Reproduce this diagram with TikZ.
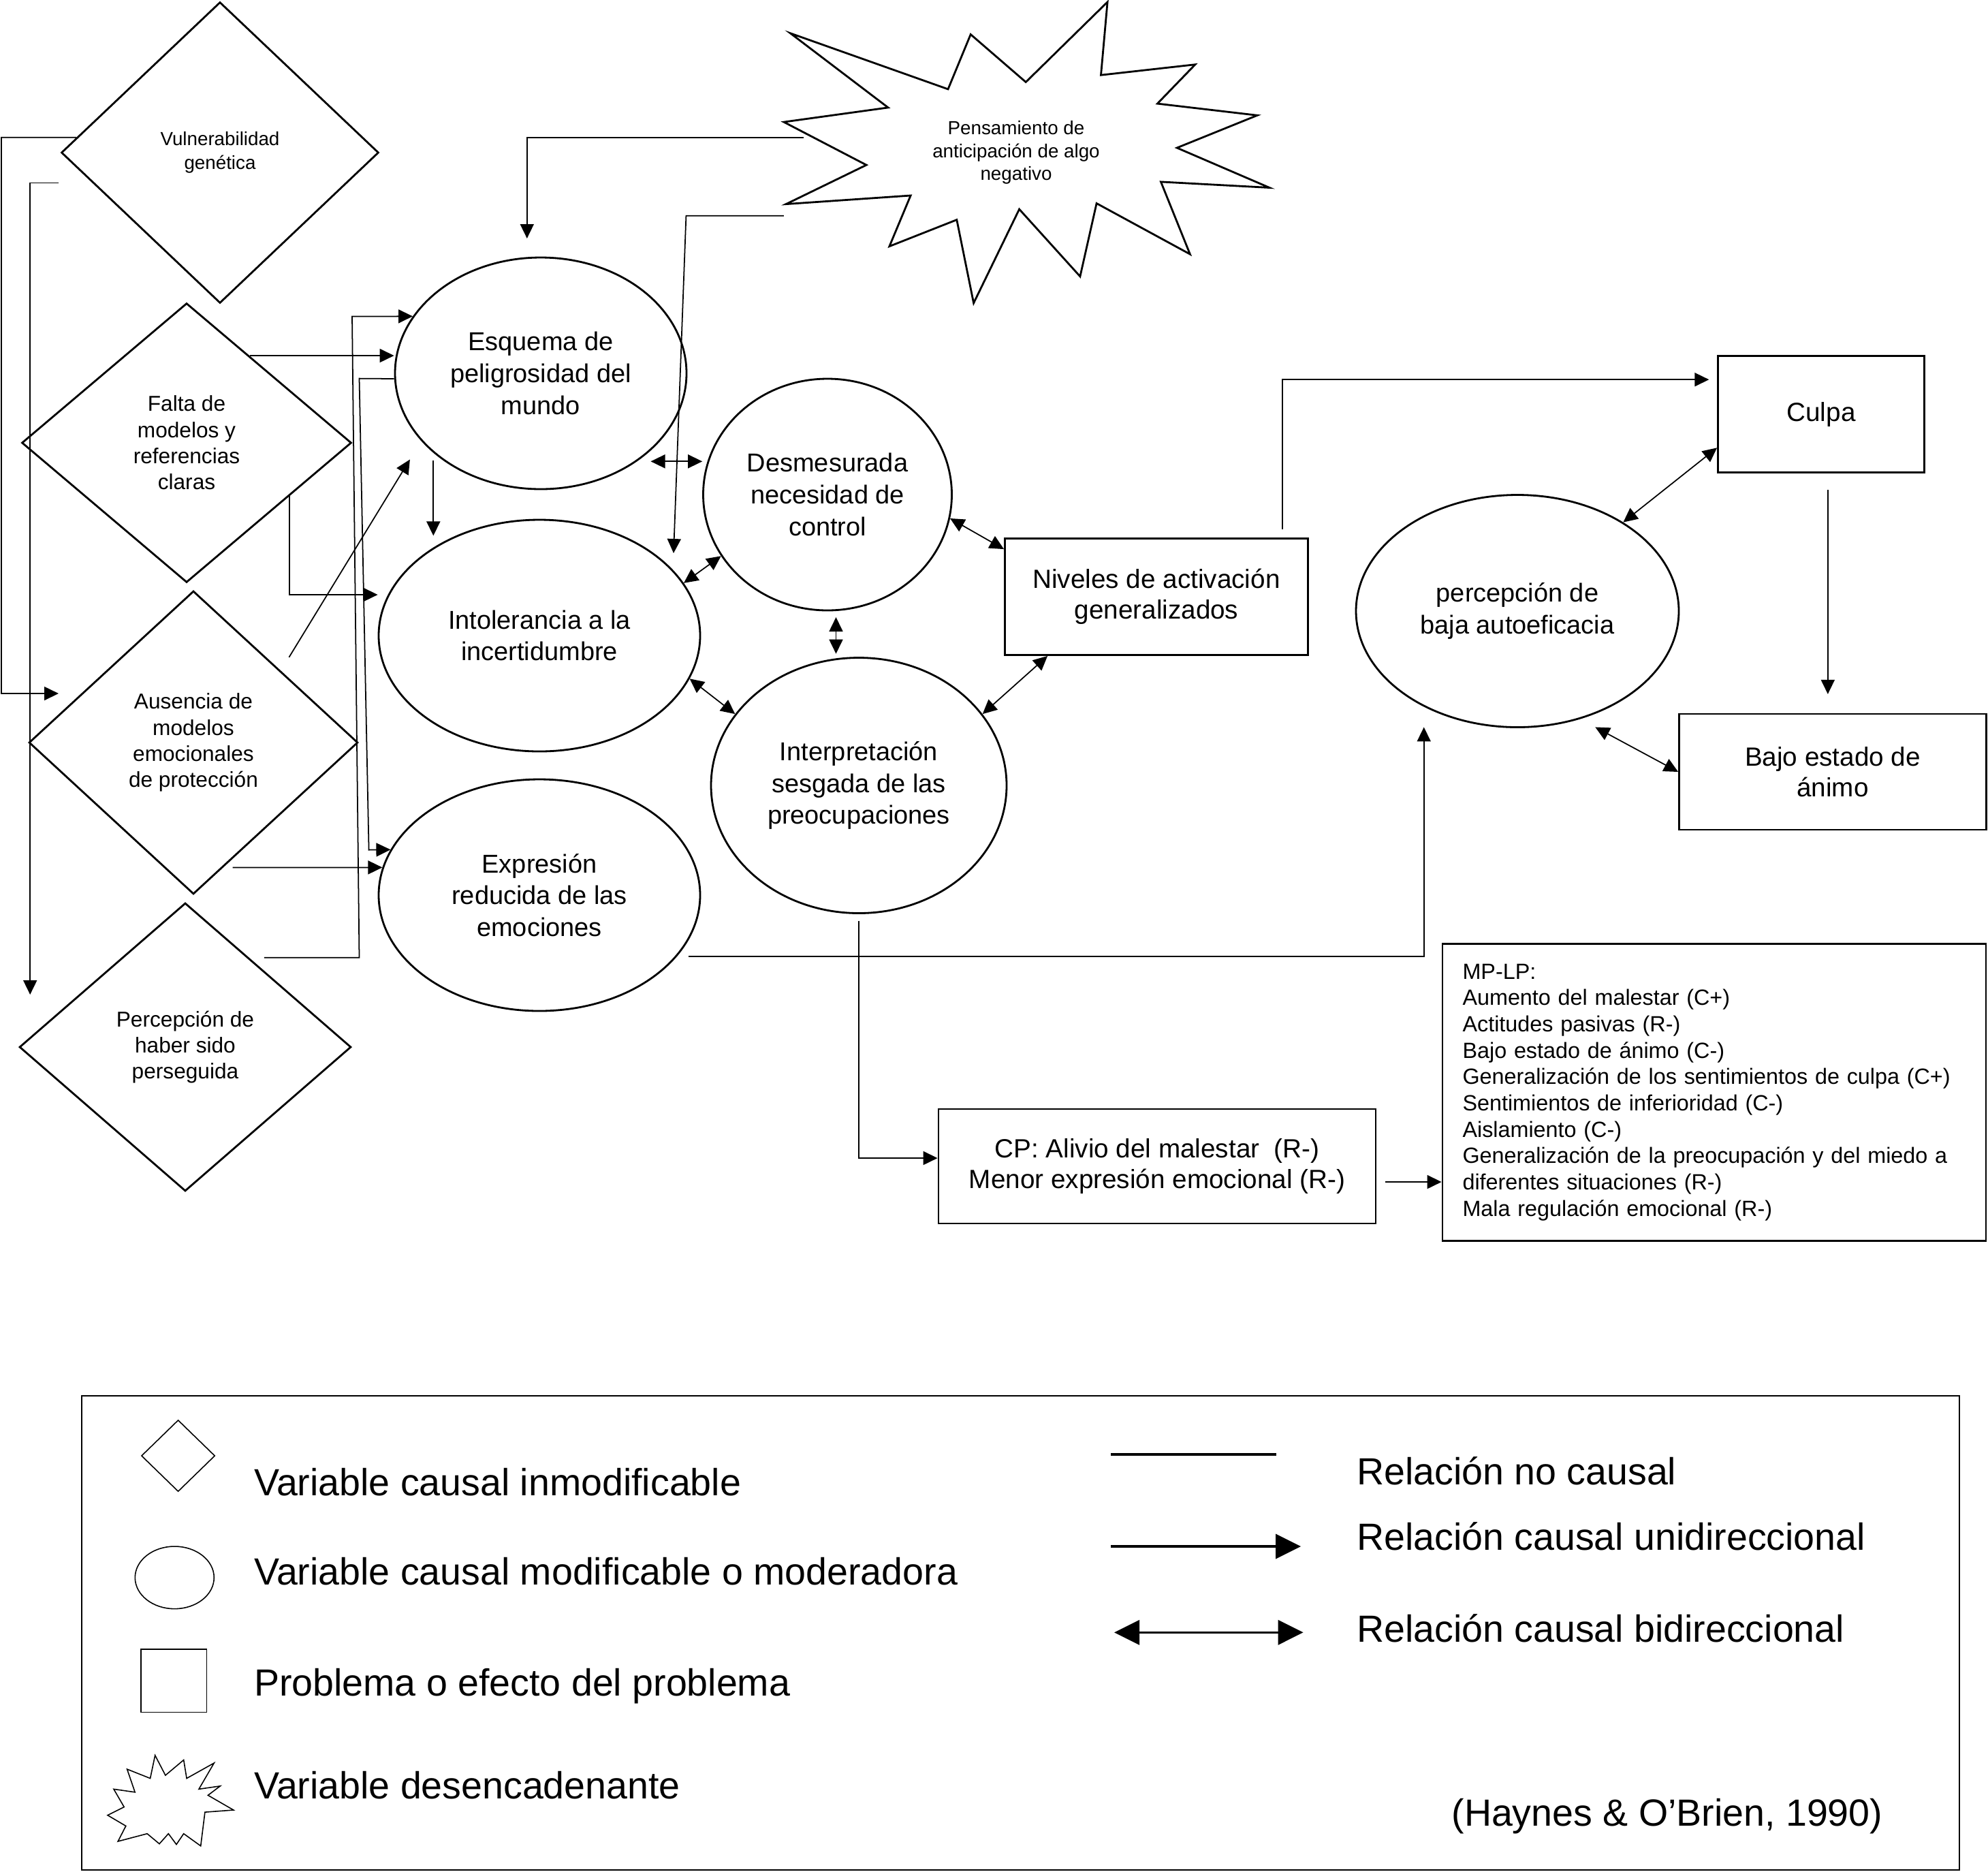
\documentclass[tikz,border=0pt]{standalone}
\usepackage{fontspec}
\setmainfont{Liberation Sans}
\usetikzlibrary{arrows.meta,shapes.geometric,calc}

\begin{document}
\begin{tikzpicture}[>={Triangle[length=0.21cm,width=0.2cm]},
    every node/.style={align=center, inner sep=0pt},
    vardiam/.style={diamond, draw, line width=0.8pt, font=\fontsize{9}{10.9}\selectfont},
    varoval/.style={ellipse, draw, line width=0.8pt, font=\fontsize{10.8}{13.3}\selectfont},
    varbox/.style={rectangle, draw, line width=0.8pt, font=\fontsize{11}{12.8}\selectfont},
    link/.style={line width=0.5pt},
    legtext/.style={anchor=base west, font=\fontsize{15.8}{19}\selectfont}]
    \useasboundingbox (0,0) rectangle (29.19,-27.47);

    % Unmodifiable causal variables (diamonds)
    \node[vardiam, minimum width=4.66cm, minimum height=4.42cm, font=\fontsize{7.9}{9.8}\selectfont] (vuln) at (3.23,-2.24) {Vulnerabilidad\\genética};
    \node[vardiam, minimum width=4.84cm, minimum height=4.10cm] (falta) at (2.74,-6.50) {Falta de\\modelos y\\referencias\\claras};
    \node[vardiam, minimum width=4.83cm, minimum height=4.45cm] (ausencia) at (2.84,-10.90) {Ausencia de\\modelos\\emocionales\\de protección};
    \node[vardiam, minimum width=4.87cm, minimum height=4.23cm] (persec) at (2.72,-15.37) {Percepción de\\haber sido\\perseguida};

    % Modifiable causal variables (ellipses)
    \node[varoval, minimum width=4.28cm, minimum height=3.40cm] (esquema) at (7.94,-5.48) {Esquema de\\peligrosidad del\\mundo};
    \node[varoval, minimum width=4.72cm, minimum height=3.40cm] (intol) at (7.92,-9.33) {Intolerancia a la\\incertidumbre};
    \node[varoval, minimum width=4.72cm, minimum height=3.40cm] (expres) at (7.92,-13.14) {Expresión\\reducida de las\\emociones};
    \node[varoval, minimum width=3.65cm, minimum height=3.40cm] (desmes) at (12.15,-7.26) {Desmesurada\\necesidad de\\control};
    \node[varoval, minimum width=4.34cm, minimum height=3.75cm] (interp) at (12.61,-11.53) {Interpretación\\sesgada de las\\preocupaciones};
    \node[varoval, minimum width=4.74cm, minimum height=3.41cm] (autoef) at (22.28,-8.97) {percepción de\\baja autoeficacia};

    % Problems (boxes)
    \node[varbox, minimum width=4.45cm, minimum height=1.71cm] (niveles) at (16.98,-8.76) {Niveles de activación\\generalizados};
    \node[varbox, minimum width=3.03cm, minimum height=1.71cm] (culpa) at (26.74,-6.08) {Culpa};
    \node[varbox, minimum width=4.51cm, minimum height=1.70cm] (animo) at (26.91,-11.33) {Bajo estado de\\ánimo};
    \node[varbox, minimum width=6.42cm, minimum height=1.68cm] (cp) at (16.99,-17.12) {CP: Alivio del malestar~ (R-)\\Menor expresión emocional (R-)};
    \node[varbox, minimum width=7.98cm, minimum height=4.23cm, text width=7.39cm, inner sep=0.295cm, align=left, font=\fontsize{9.2}{11}\selectfont] (mplp) at (25.17,-16.035) {MP-LP:\\Aumento del malestar (C+)\\Actitudes pasivas (R-)\\Bajo estado de ánimo (C-)\\Generalización de los sentimientos de culpa (C+)\\Sentimientos de inferioridad (C-)\\Aislamiento (C-)\\Generalización de la preocupación y del miedo a\\diferentes situaciones (R-)\\Mala regulación emocional (R-)};

    % Triggering variable (star)
    \draw[line width=0.8pt] (11.605,-0.488) -- (13.040,-1.579) -- (11.509,-1.791) -- (12.721,-2.422) -- (11.541,-2.996) -- (13.371,-2.870) -- (13.059,-3.616) -- (14.048,-3.226) -- (14.296,-4.449) -- (14.966,-3.071) -- (15.859,-4.058) -- (16.101,-2.985) -- (17.473,-3.731) -- (17.045,-2.669) -- (18.640,-2.755) -- (17.281,-2.170) -- (18.461,-1.693) -- (16.994,-1.521) -- (17.549,-0.947) -- (16.165,-1.102) -- (16.261,-0.029) -- (15.062,-1.205) -- (14.252,-0.505) -- (13.920,-1.309) -- cycle;
    \node[font=\fontsize{7.9}{9.6}\selectfont] (pensam) at (14.92,-2.24) {Pensamiento de\\anticipación de algo\\negativo};

    % From the diamonds
    \coordinate (vulnA) at ($(vuln.west)!0.1!(vuln.north)$);
    \coordinate (ausIn) at (0.86,-10.18);
    \draw[link,->] (vulnA) -- (0.02,-2.018) |- (ausIn);
    \coordinate (vulnP) at (0.863,-2.686);
    \coordinate (persIn) at (0.442,-14.60);
    \draw[link,->] (vulnP) -| (persIn);
    \coordinate (faltaE) at ($(falta.north)!0.38!(falta.east)$);
    \draw[link,->] (faltaE) -- (faltaE -| esquema.west);
    \coordinate (faltaI) at ($(falta.east)!0.38!(falta.south)$);
    \draw[link,->] (faltaI) |- ([yshift=0.6cm]intol.west);
    \coordinate (ausE) at (4.244,-9.648);
    \coordinate (esqIn) at (6.019,-6.745);
    \draw[link,->] (ausE) -- (esqIn);
    \coordinate (ausX) at (3.416,-12.735);
    \draw[link,->] (ausX) -- (expres.170);
    \coordinate (persE) at (3.879,-14.056);
    \draw[link,->] (persE) -- (5.275,-14.056) -- (5.17,-4.645) -- (esquema.156);

    % From the schema
    \draw[link,->] ([yshift=-0.08cm]esquema.west) -- (5.275,-5.556) -- (5.416,-12.476) -- (expres.163);
    \coordinate (esqDown) at (6.363,-6.756);
    \coordinate (intolTop) at (6.363,-7.864);
    \draw[link,->] (esqDown) -- (intolTop);

    % From the trigger
    \coordinate (pensE) at (11.796,-2.02);
    \coordinate (esqTop) at (7.738,-3.50);
    \draw[link,->] (pensE) -| (esqTop);
    \coordinate (pensI) at (11.509,-3.168);
    \coordinate (intolIn) at (9.89,-8.12);
    \draw[link,->] (pensI) -- (10.074,-3.168) -- (intolIn);

    % Bidirectional relations
    \coordinate (esqR) at (9.555,-6.773);
    \coordinate (desL) at (10.312,-6.773);
    \draw[link,<->] (esqR) -- (desL);
    \draw[link,<->] (intol.20) -- (desmes.210);
    \draw[link,<->] (intol.-16) -- (interp.150);
    \coordinate (desB) at (12.275,-9.06);
    \coordinate (intT) at (12.275,-9.597);
    \draw[link,<->] (desB) -- (intT);
    \draw[link,<->] (desmes.-11) -- ([yshift=-0.17cm]niveles.north west);
    \draw[link,<->] (interp.30) -- ([xshift=0.64cm]niveles.south west);
    \draw[link,<->] (autoef.40) -- ([yshift=0.376cm]culpa.south west);
    \coordinate (autoB) at (23.423,-10.674);
    \draw[link,<->] (autoB) -- (animo.west);

    % Towards the problems
    \coordinate (nivUp) at (18.83,-7.766);
    \coordinate (culpaIn) at (25.093,-5.572);
    \draw[link,->] (nivUp) |- (culpaIn);
    \coordinate (culpaOut) at (26.838,-7.192);
    \coordinate (animoIn) at (26.838,-10.189);
    \draw[link,->] (culpaOut) -- (animoIn);
    \coordinate (expOut) at (10.106,-14.036);
    \coordinate (autoIn) at (20.907,-10.674);
    \draw[link,->] (expOut) -| (autoIn);
    \coordinate (intOut) at (12.607,-13.515);
    \draw[link,->] (intOut) |- ([yshift=0.12cm]cp.west);
    \coordinate (cpOut) at (20.34,-17.35);
    \draw[link,->] (cpOut) -- (cpOut -| mplp.west);

    % Legend
    \draw[line width=0.7pt] (1.20,-20.49) rectangle (28.77,-27.45);
    \node[diamond, draw, line width=0.45pt, minimum width=1.08cm, minimum height=1.05cm] (legDiam) at (2.616,-21.37) {};
    \node[ellipse, draw, line width=0.45pt, minimum width=1.16cm, minimum height=0.916cm] (legOval) at (2.563,-23.158) {};
    \node[rectangle, draw, line width=0.45pt, minimum width=0.964cm, minimum height=0.925cm] (legBox) at (2.554,-24.673) {};
    \draw[line width=0.45pt] (2.277,-25.767) -- (2.429,-26.060) -- (2.697,-25.835) -- (2.741,-26.105) -- (3.143,-25.880) -- (2.920,-26.263) -- (3.233,-26.218) -- (3.054,-26.353) -- (3.429,-26.570) -- (3.009,-26.601) -- (2.947,-27.097) -- (2.697,-26.917) -- (2.590,-27.075) -- (2.473,-26.917) -- (2.340,-27.066) -- (2.161,-26.917) -- (1.732,-27.030) -- (1.848,-26.804) -- (1.580,-26.646) -- (1.822,-26.525) -- (1.670,-26.263) -- (1.982,-26.308) -- (1.866,-25.970) -- (2.206,-26.105) -- cycle;
    \node[legtext] (legT1) at (3.724,-21.956) {Variable causal inmodificable};
    \node[legtext] (legT2) at (3.724,-23.264) {Variable causal modificable o moderadora};
    \node[legtext] (legT3) at (3.724,-24.896) {Problema o efecto del problema};
    \node[legtext] (legT4) at (3.724,-26.40) {Variable desencadenante};

    \coordinate (lgA1) at (16.31,-21.347);
    \coordinate (lgA2) at (18.74,-21.347);
    \draw[line width=1pt] (lgA1) -- (lgA2);
    \coordinate (lgB1) at (16.31,-22.70);
    \coordinate (lgB2) at (19.10,-22.70);
    \draw[line width=1pt, -{Triangle[length=0.37cm,width=0.36cm]}] (lgB1) -- (lgB2);
    \coordinate (lgC1) at (16.36,-23.963);
    \coordinate (lgC2) at (19.136,-23.963);
    \draw[line width=1pt, {Triangle[length=0.37cm,width=0.36cm]}-{Triangle[length=0.37cm,width=0.36cm]}] (lgC1) -- (lgC2);
    \node[legtext] (legT5) at (19.914,-21.798) {Relación no causal};
    \node[legtext] (legT6) at (19.914,-22.754) {Relación causal unidireccional};
    \node[legtext] (legT7) at (19.914,-24.107) {Relación causal bidireccional};
    \node[legtext] (source) at (21.308,-26.804) {(Haynes \& O’Brien, 1990)};
  \end{tikzpicture}
\end{document}
